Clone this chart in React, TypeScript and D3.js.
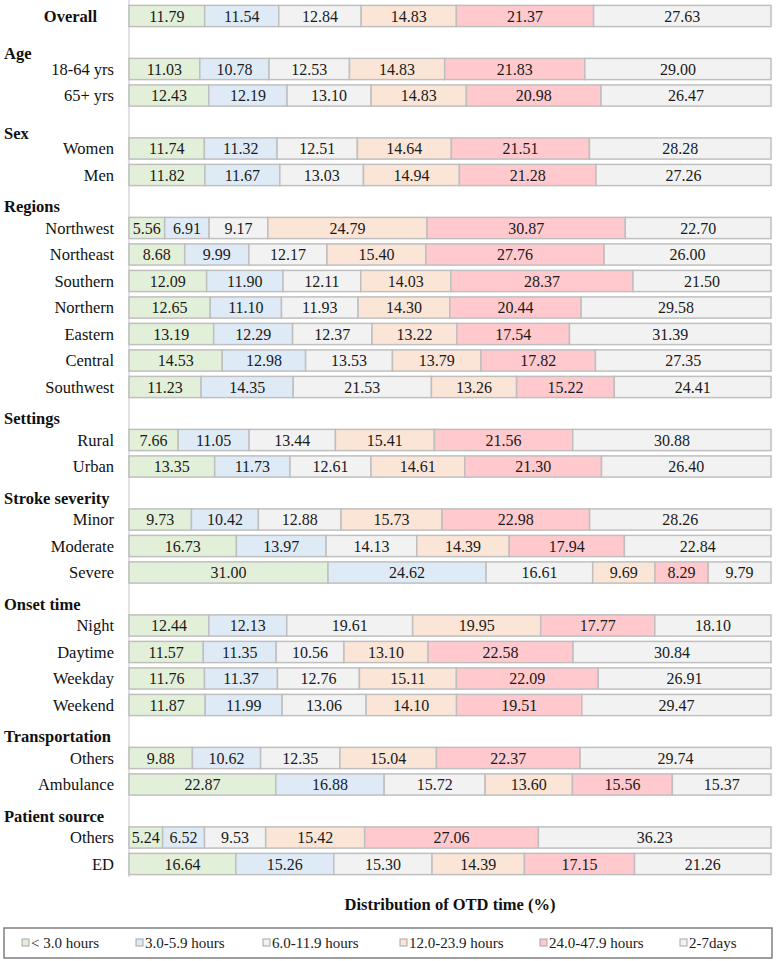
import * as d3 from 'd3';

// rows in draw order; headers carry no values
const rowLabels = [
  'Overall',
  'Age', '18-64 yrs', '65+ yrs',
  'Sex', 'Women', 'Men',
  'Regions', 'Northwest', 'Northeast', 'Southern', 'Northern', 'Eastern', 'Central', 'Southwest',
  'Settings', 'Rural', 'Urban',
  'Stroke severity', 'Minor', 'Moderate', 'Severe',
  'Onset time', 'Night', 'Daytime', 'Weekday', 'Weekend',
  'Transportation', 'Others', 'Ambulance',
  'Patient source', 'Others', 'ED',
];
const headerRows = ['Age', 'Sex', 'Regions', 'Settings', 'Stroke severity', 'Onset time', 'Transportation', 'Patient source'];

const seriesNames = ['< 3.0 hours', '3.0-5.9 hours', '6.0-11.9 hours', '12.0-23.9 hours', '24.0-47.9 hours', '2-7days'];

// values per row index (null = header row)
const rowValues: (number[] | null)[] = [
  [11.79, 11.54, 12.84, 14.83, 21.37, 27.63],
  null,
  [11.03, 10.78, 12.53, 14.83, 21.83, 29.0],
  [12.43, 12.19, 13.1, 14.83, 20.98, 26.47],
  null,
  [11.74, 11.32, 12.51, 14.64, 21.51, 28.28],
  [11.82, 11.67, 13.03, 14.94, 21.28, 27.26],
  null,
  [5.56, 6.91, 9.17, 24.79, 30.87, 22.7],
  [8.68, 9.99, 12.17, 15.4, 27.76, 26.0],
  [12.09, 11.9, 12.11, 14.03, 28.37, 21.5],
  [12.65, 11.1, 11.93, 14.3, 20.44, 29.58],
  [13.19, 12.29, 12.37, 13.22, 17.54, 31.39],
  [14.53, 12.98, 13.53, 13.79, 17.82, 27.35],
  [11.23, 14.35, 21.53, 13.26, 15.22, 24.41],
  null,
  [7.66, 11.05, 13.44, 15.41, 21.56, 30.88],
  [13.35, 11.73, 12.61, 14.61, 21.3, 26.4],
  null,
  [9.73, 10.42, 12.88, 15.73, 22.98, 28.26],
  [16.73, 13.97, 14.13, 14.39, 17.94, 22.84],
  [31.0, 24.62, 16.61, 9.69, 8.29, 9.79],
  null,
  [12.44, 12.13, 19.61, 19.95, 17.77, 18.1],
  [11.57, 11.35, 10.56, 13.1, 22.58, 30.84],
  [11.76, 11.37, 12.76, 15.11, 22.09, 26.91],
  [11.87, 11.99, 13.06, 14.1, 19.51, 29.47],
  null,
  [9.88, 10.62, 12.35, 15.04, 22.37, 29.74],
  [22.87, 16.88, 15.72, 13.6, 15.56, 15.37],
  null,
  [5.24, 6.52, 9.53, 15.42, 27.06, 36.23],
  [16.64, 15.26, 15.3, 14.39, 17.15, 21.26],
];

const xTitle = 'Distribution of OTD time (%)';

const COLORS = ['#e2efd9', '#deebf7', '#f2f2f2', '#fbe5d6', '#ffc9cd', '#f2f2f2'];
const W = 777;
const H = 961;
const FONT = "'Liberation Serif', 'DejaVu Serif', serif";

const App = () => {
  const x = d3.scaleLinear().domain([0, 100]).range([129, 771]);
  const y = d3
    .scaleBand<number>()
    .domain(rowLabels.map((_, i) => i))
    .range([2.75, 877.25]);
  const barH = y.bandwidth() * 0.8;

  const legendX = [22, 136, 263, 400, 540, 680];

  return (
    <svg width={W} height={H} fontFamily={FONT} style={{ position: 'absolute', left: 0, top: 0 }}>
      <rect x={0} y={0} width={W} height={H} fill="#fff" />
      <line x1={129} x2={129} y1={0} y2={877} stroke="#d9d9d9" strokeWidth={1.5} />
      {rowLabels.map((label, i) => {
        const cy = (y(i) ?? 0) + y.bandwidth() / 2;
        const vals = rowValues[i];
        if (headerRows.includes(label) && !vals) {
          const off = label === 'Age' || label === 'Sex' ? 11 : 5;
          return (
            <text key={i} x={4} y={cy + off} dy="0.35em" fontFamily={FONT} fontSize={16.5} fontWeight="bold" fill="#111">
              {label}
            </text>
          );
        }
        const ends = d3.cumsum(vals || []);
        return (
          <g key={i}>
            {label === 'Overall' ? (
              <text x={97} y={cy} dy="0.35em" textAnchor="end" fontFamily={FONT} fontSize={16.5} fontWeight="bold" fill="#111">
                {label}
              </text>
            ) : (
              <text x={114} y={cy} dy="0.35em" textAnchor="end" fontFamily={FONT} fontSize={16.5} fill="#111">
                {label}
              </text>
            )}
            {(vals || []).map((v, j) => {
              const x0 = x(ends[j] - v);
              const x1 = x(Math.min(ends[j], 100));
              return (
                <g key={j}>
                  <rect
                    x={x0}
                    y={cy - barH / 2}
                    width={x1 - x0}
                    height={barH}
                    fill={COLORS[j]}
                    stroke="#bfbfbf"
                    strokeWidth={1.5}
                  />
                  <text x={(x0 + x1) / 2} y={cy} dy="0.35em" textAnchor="middle" fontFamily={FONT} fontSize={16} fill="#1a1a1a">
                    {v.toFixed(2)}
                  </text>
                </g>
              );
            })}
          </g>
        );
      })}
      <text x={450} y={904} dy="0.35em" textAnchor="middle" fontFamily={FONT} fontSize={16.5} fontWeight="bold" fill="#111">
        {xTitle}
      </text>
      <rect x={4} y={928} width={768} height={30} fill="#fff" stroke="#7f7f7f" strokeWidth={1.5} />
      {seriesNames.map((s, j) => (
        <g key={s}>
          <rect x={legendX[j]} y={939} width={7} height={7} fill={COLORS[j]} stroke="#a6a6a6" strokeWidth={1} />
          <text x={legendX[j] + 9} y={943} dy="0.35em" fontFamily={FONT} fontSize={15} fill="#1a1a1a">
            {s}
          </text>
        </g>
      ))}
    </svg>
  );
};

export default App;
